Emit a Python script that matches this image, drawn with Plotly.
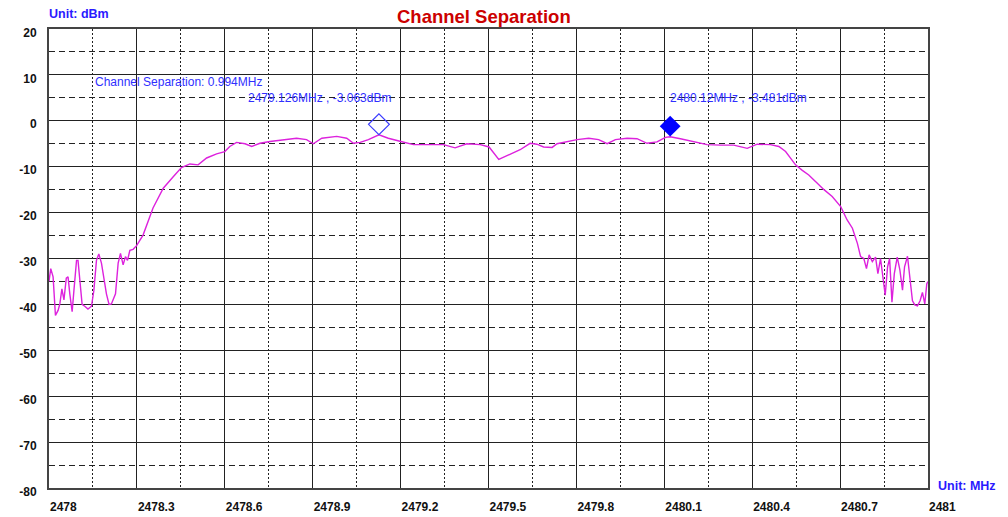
import plotly.graph_objects as go

# ---- data ----
freq_mhz = [
    2478.000, 2478.006, 2478.014, 2478.022, 2478.031, 2478.037, 2478.044, 2478.051,
    2478.059, 2478.065, 2478.071, 2478.079, 2478.085, 2478.094, 2478.099, 2478.107,
    2478.113, 2478.122, 2478.133, 2478.145, 2478.153, 2478.162, 2478.170, 2478.179,
    2478.188, 2478.196, 2478.205, 2478.213, 2478.227, 2478.236, 2478.244, 2478.253,
    2478.261, 2478.268, 2478.276, 2478.287, 2478.299, 2478.321, 2478.355, 2478.390,
    2478.424, 2478.452, 2478.481, 2478.509, 2478.538, 2478.572, 2478.600, 2478.617,
    2478.640, 2478.669, 2478.692, 2478.720, 2478.754, 2478.800, 2478.845, 2478.879,
    2478.902, 2478.931, 2478.982, 2479.016, 2479.039, 2479.062, 2479.090, 2479.126,
    2479.158, 2479.201, 2479.244, 2479.301, 2479.346, 2479.386, 2479.426, 2479.472,
    2479.502, 2479.535, 2479.574, 2479.608, 2479.642, 2479.665, 2479.688, 2479.717,
    2479.734, 2479.768, 2479.802, 2479.842, 2479.876, 2479.905, 2479.933, 2479.973,
    2480.007, 2480.041, 2480.075, 2480.104, 2480.120, 2480.155, 2480.195, 2480.246,
    2480.292, 2480.337, 2480.383, 2480.417, 2480.462, 2480.491, 2480.514, 2480.531,
    2480.548, 2480.571, 2480.593, 2480.616, 2480.645, 2480.673, 2480.702, 2480.724,
    2480.742, 2480.759, 2480.770, 2480.781, 2480.790, 2480.799, 2480.810, 2480.821,
    2480.829, 2480.838, 2480.849, 2480.854, 2480.862, 2480.869, 2480.877, 2480.885,
    2480.895, 2480.904, 2480.913, 2480.920, 2480.930, 2480.939, 2480.947, 2480.955,
    2480.964, 2480.973, 2480.981, 2480.989, 2480.996, 2481.000,
]
level_dbm = [
    -35.0, -32.2, -34.0, -42.4, -41.3, -39.9, -36.6, -39.0,
    -34.3, -34.0, -37.7, -41.6, -37.0, -30.4, -30.4, -35.4,
    -40.0, -40.4, -41.0, -40.4, -37.0, -30.4, -29.0, -31.0,
    -34.7, -37.7, -40.0, -39.9, -37.7, -31.0, -28.9, -31.4,
    -29.6, -30.4, -28.2, -28.0, -27.2, -24.9, -19.0, -14.7,
    -12.2, -10.2, -9.4, -9.6, -8.1, -7.2, -6.7, -5.6,
    -4.7, -5.0, -5.6, -4.9, -4.5, -4.1, -3.8, -4.1,
    -5.0, -3.8, -3.4, -3.8, -4.9, -4.7, -4.1, -3.063,
    -3.8, -4.5, -5.2, -5.2, -5.2, -5.9, -5.0, -5.2,
    -5.7, -8.4, -7.2, -6.3, -4.9, -5.1, -5.7, -5.8,
    -5.0, -4.5, -4.1, -3.8, -4.1, -5.0, -4.1, -3.8,
    -3.9, -4.9, -4.6, -3.6, -3.481, -3.9, -4.5, -5.2,
    -5.3, -5.3, -6.0, -5.1, -5.2, -5.6, -6.7, -8.1,
    -9.6, -10.8, -11.8, -13.2, -15.0, -16.5, -18.7, -21.6,
    -23.4, -26.7, -29.6, -30.0, -32.2, -29.2, -30.7, -29.7,
    -33.3, -30.0, -36.2, -38.0, -31.8, -30.0, -39.5, -33.3,
    -29.7, -32.5, -36.9, -31.8, -29.5, -34.0, -39.2, -40.1,
    -40.3, -39.2, -37.4, -39.9, -35.5, -35.0,
]

marker_freq = [2479.126, 2480.12]
marker_level = [-3.063, -3.481]
marker_text = ["2479.126MHz , -3.063dBm", "2480.12MHz , -3.481dBm"]

x_tick_vals = [2478.0, 2478.3, 2478.6, 2478.9, 2479.2, 2479.5, 2479.8, 2480.1, 2480.4, 2480.7, 2481.0]
x_tick_text = ["2478", "2478.3", "2478.6", "2478.9", "2479.2", "2479.5", "2479.8", "2480.1", "2480.4", "2480.7", "2481"]
x_minor_vals = [2478.15, 2478.45, 2478.75, 2479.05, 2479.35, 2479.65, 2479.95, 2480.25, 2480.55, 2480.85]
y_tick_vals = [20, 10, 0, -10, -20, -30, -40, -50, -60, -70, -80]
y_tick_text = ["20", "10", "0", "-10", "-20", "-30", "-40", "-50", "-60", "-70", "-80"]
y_minor_vals = [15, 5, -5, -15, -25, -35, -45, -55, -65, -75]

title_text = "Channel Separation"
separation_text = "Channel Separation: %.3fMHz" % (marker_freq[1] - marker_freq[0])

# ---- styling ----
FONT = "Liberation Sans, Arial, sans-serif"
TRACE_COLOR = "#dd22dd"
BLUE = "#0000ff"
TXT_BLUE = "#2f2fff"
UNIT_BLUE = "#2a1aff"
MARKER_LIFT_DB = 2.3  # markers are drawn slightly above the measured point

fig = go.Figure()
fig.add_trace(go.Scatter(
    x=freq_mhz, y=level_dbm, mode="lines",
    line=dict(color=TRACE_COLOR, width=1.4), showlegend=False, hoverinfo="skip",
))
fig.add_trace(go.Scatter(
    x=[marker_freq[0]], y=[marker_level[0]], mode="markers", yaxis="y2",
    marker=dict(symbol="diamond-open", size=16, color="#3b3bff", line=dict(width=1.2, color="#3b3bff")),
    showlegend=False, hoverinfo="skip",
))
fig.add_trace(go.Scatter(
    x=[marker_freq[1]], y=[marker_level[1]], mode="markers", yaxis="y2",
    marker=dict(symbol="diamond", size=16, color=BLUE, line=dict(width=0)),
    showlegend=False, hoverinfo="skip",
))

annotations = [
    dict(x=2478.15, y=8.4, xref="x", yref="y", text=separation_text, showarrow=False,
         xanchor="left", yanchor="middle", font=dict(family=FONT, size=12, color=TXT_BLUE)),
    dict(x=marker_freq[0], y=5, xref="x", yref="y", text=marker_text[0], showarrow=False,
         xanchor="right", yanchor="middle", xshift=14, font=dict(family=FONT, size=12, color=TXT_BLUE)),
    dict(x=marker_freq[1], y=5, xref="x", yref="y", text=marker_text[1], showarrow=False,
         xanchor="left", yanchor="middle", xshift=-2, font=dict(family=FONT, size=12, color=TXT_BLUE)),
    dict(x=0, y=1.0327, xref="paper", yref="paper", text="<b>Unit: dBm</b>", showarrow=False,
         xanchor="left", yanchor="middle", xshift=-2, font=dict(family=FONT, size=12.5, color=UNIT_BLUE)),
    dict(x=1.0094, y=0.004, xref="paper", yref="paper", text="<b>Unit: MHz</b>", showarrow=False,
         xanchor="left", yanchor="middle", font=dict(family=FONT, size=12.5, color=UNIT_BLUE)),
]

tickfont = dict(family=FONT, size=12, color="#111111", weight="bold")

fig.update_layout(
    width=1008, height=517,
    margin=dict(l=49, r=80, t=29, b=29, autoexpand=False),
    paper_bgcolor="white", plot_bgcolor="white",
    title=dict(text="<b>%s</b>" % title_text, x=0.480, xref="container", xanchor="center",
               y=1 - 17 / 517, yref="container", yanchor="middle",
               font=dict(family=FONT, size=18.5, color="#cc0000")),
    xaxis=dict(
        range=[2478, 2481], tickvals=x_tick_vals, ticktext=x_tick_text,
        showgrid=True, gridcolor="#222222", gridwidth=1.3, automargin=False,
        showline=True, linecolor="#444444", linewidth=2, mirror=True,
        zeroline=False, ticks="", tickfont=tickfont,
        ticklabelposition="outside right", ticklabelstandoff=7,
        minor=dict(tickmode="array", tickvals=x_minor_vals, showgrid=True, gridcolor="#222222",
                   gridwidth=1, griddash="2px,2px"),
    ),
    yaxis=dict(
        range=[-80, 20], tickvals=y_tick_vals, ticktext=y_tick_text,
        showgrid=True, gridcolor="#222222", gridwidth=1.3, automargin=False,
        showline=True, linecolor="#444444", linewidth=2, mirror=True,
        zeroline=False, ticks="", tickfont=tickfont,
        ticklabelposition="outside bottom", ticklabelstandoff=8, ticklabelshift=-5,
        minor=dict(tickmode="array", tickvals=y_minor_vals, showgrid=True, gridcolor="#222222",
                   gridwidth=1, griddash="6px,4px"),
    ),
    yaxis2=dict(
        range=[-80 - MARKER_LIFT_DB, 20 - MARKER_LIFT_DB], overlaying="y",
        visible=False, showgrid=False,
    ),
    annotations=annotations,
)

fig.write_html("out.html", config={"displayModeBar": False},
               post_script="document.body.style.margin='0';document.body.style.padding='0';")
